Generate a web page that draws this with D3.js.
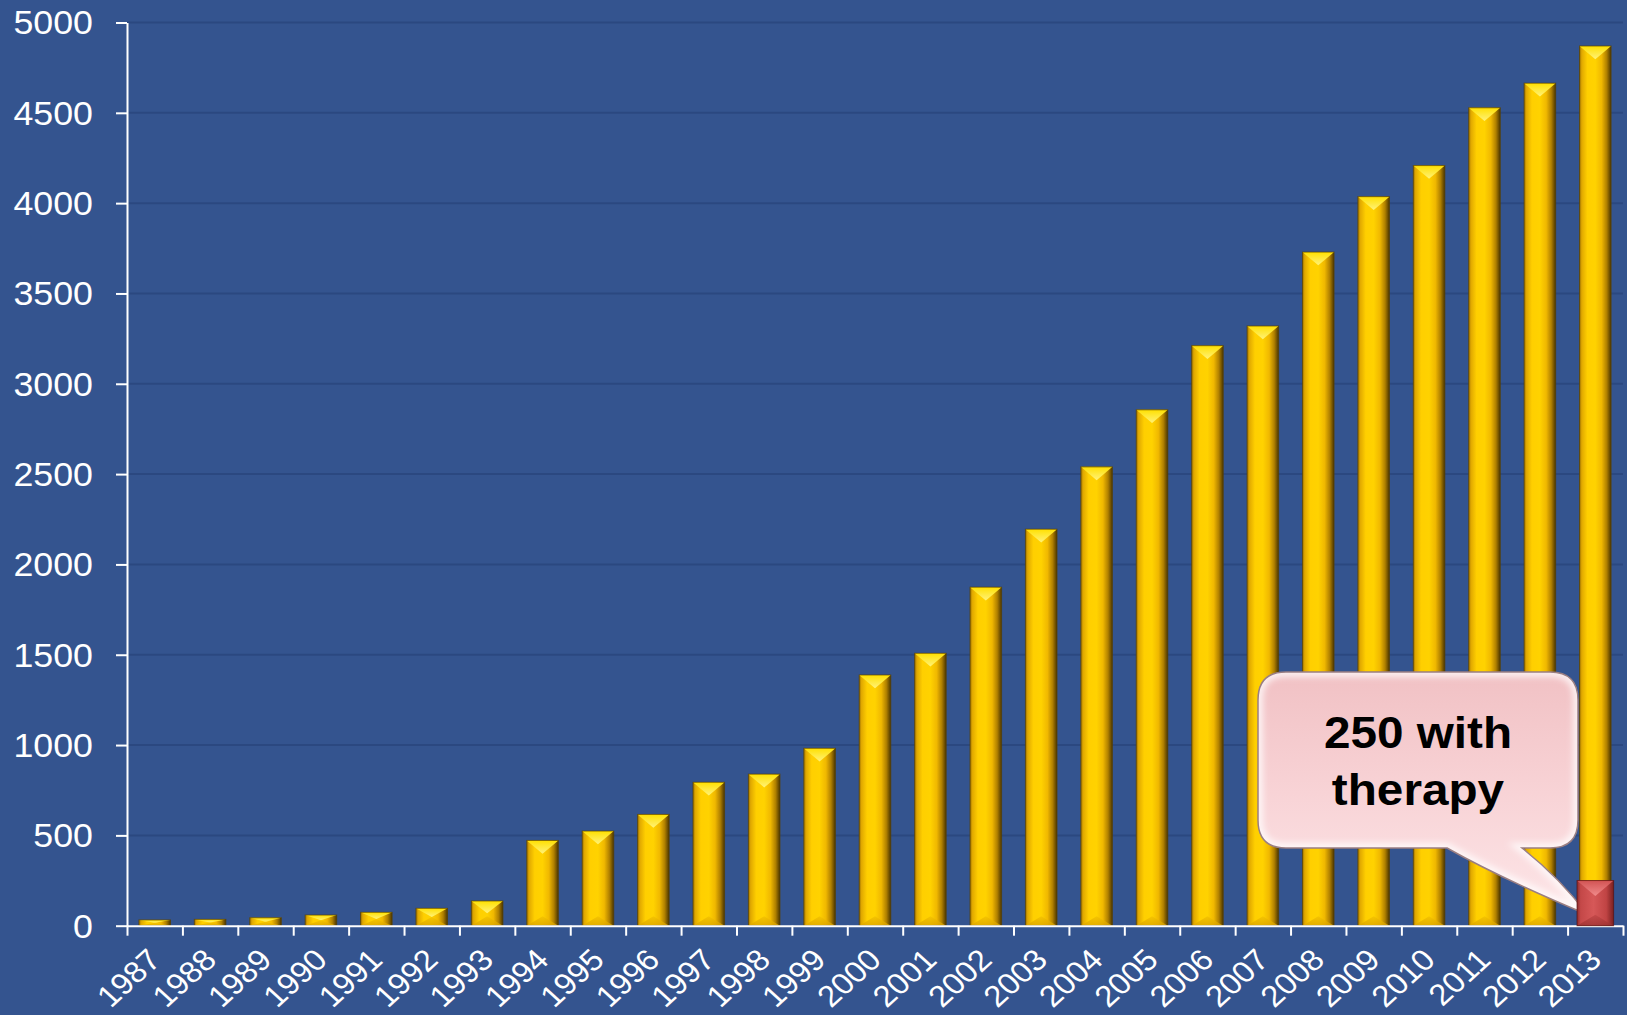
<!DOCTYPE html>
<html>
<head>
<meta charset="utf-8">
<script src="https://cdn.jsdelivr.net/npm/d3@7"></script>
<style>
  html, body { margin: 0; padding: 0; background: #34548f; }
  svg { display: block; }
  text { font-family: "Liberation Sans", Arial, Helvetica, sans-serif; }
</style>
</head>
<body>
<svg id="chart" width="1627" height="1015"></svg>
<script>
// ---- data ----
const years = ['1987','1988','1989','1990','1991','1992','1993','1994','1995','1996','1997','1998','1999',
               '2000','2001','2002','2003','2004','2005','2006','2007','2008','2009','2010','2011','2012','2013'];
const totals = [32, 35, 44, 59, 74, 96, 137, 472, 524, 616, 794, 839, 982,
                1388, 1508, 1874, 2195, 2540, 2856, 3211, 3320, 3729, 4036, 4208, 4528, 4664, 4870];
const therapyYears = ['2013'];
const therapyValues = [250];
const yTicks = [0, 500, 1000, 1500, 2000, 2500, 3000, 3500, 4000, 4500, 5000];
const calloutLines = ['250 with', 'therapy'];

// ---- layout ----
const W = 1627, H = 1015;
const plotLeft = 127, plotRight = 1623, plotTop = 22.5, plotBottom = 925.7;
const SX = 1.1; // horizontal stretch of the original picture

const svg = d3.select('#chart');
const defs = svg.append('defs');

svg.append('rect').attr('width', W).attr('height', H).attr('fill', '#34548f');

const x = d3.scaleBand().domain(years).range([plotLeft, plotRight]).paddingInner(0.43).paddingOuter(0.215);
const y = d3.scaleLinear().domain([0, 5000]).range([plotBottom, plotTop]);

// gradients
function hGrad(id, stops) {
  const g = defs.append('linearGradient').attr('id', id).attr('x1', '0%').attr('x2', '100%').attr('y1', '0%').attr('y2', '0%');
  stops.forEach(s => g.append('stop').attr('offset', s[0]).attr('stop-color', s[1]));
}
function vGrad(id, stops) {
  const g = defs.append('linearGradient').attr('id', id).attr('x1', '0%').attr('x2', '0%').attr('y1', '0%').attr('y2', '100%');
  stops.forEach(s => g.append('stop').attr('offset', s[0]).attr('stop-color', s[1]));
}
hGrad('gold', [[0, '#9a7000'], [0.07, '#e0a800'], [0.25, '#ffcf00'], [0.5, '#ffd200'], [0.7, '#f0b800'], [0.86, '#b08000'], [1, '#4a3500']]);
vGrad('goldTop', [[0, '#ffe000'], [1, '#fff27a']]);
vGrad('goldBot', [[0, '#f2c000'], [1, '#d9a200']]);
hGrad('red', [[0, '#8e2c2c'], [0.1, '#c44848'], [0.45, '#d65858'], [0.8, '#c04444'], [1, '#7a2020']]);
vGrad('redTop', [[0, '#d25454'], [1, '#f08a8a']]);
vGrad('redBot', [[0, '#c04646'], [1, '#9a3030']]);
vGrad('callFill', [[0, '#f1c1c4'], [0.5, '#f8d3d6'], [1, '#fde6e8']]);
const blur = defs.append('filter').attr('id', 'blur').attr('x', '-5%').attr('y', '-5%').attr('width', '110%').attr('height', '110%');
blur.append('feGaussianBlur').attr('stdDeviation', 3);

// gridlines
svg.append('g').selectAll('line').data(yTicks.filter(d => d > 0)).join('line')
  .attr('x1', plotLeft).attr('x2', plotRight).attr('y1', d => y(d)).attr('y2', d => y(d))
  .attr('stroke', '#2b4880').attr('stroke-width', 2);

// bevelled bar drawing
function drawBars(g, cats, vals, opt) {
  const items = cats.map((c, i) => ({ c, v: vals[i] }));
  const bars = g.selectAll('g.bar').data(items).join('g').attr('class', 'bar');
  bars.each(function (d) {
    const gg = d3.select(this);
    const x0 = x(d.c) + x.bandwidth() / 2 - opt.w / 2, x1 = x0 + opt.w;
    const y0 = y(d.v), y1 = y(0);
    const h = y1 - y0;
    const bt = Math.min(opt.w * 0.42, h / 2);
    const bb = Math.min(opt.w * 0.3, h / 2);
    const xc = (x0 + x1) / 2;
    gg.append('rect').attr('x', x0).attr('y', y0).attr('width', opt.w).attr('height', h)
      .attr('fill', `url(#${opt.body})`);
    gg.append('path').attr('d', `M${x0},${y0}L${x1},${y0}L${xc},${y0 + bt}Z`).attr('fill', `url(#${opt.top})`);
    gg.append('path').attr('d', `M${x0},${y1}L${x1},${y1}L${xc},${y1 - bb}Z`).attr('fill', `url(#${opt.bot})`).attr('opacity', 0.75);
    gg.append('rect').attr('x', x0).attr('y', y0).attr('width', opt.w).attr('height', h)
      .attr('fill', 'none').attr('stroke', opt.edge).attr('stroke-width', 1).attr('stroke-opacity', 0.7);
  });
}
drawBars(svg.append('g'), years, totals, { w: x.bandwidth(), body: 'gold', top: 'goldTop', bot: 'goldBot', edge: '#5a4200' });

// Y axis
const yAxis = svg.append('g').attr('transform', `translate(${plotLeft},0)`)
  .call(d3.axisLeft(y).tickValues(yTicks).tickFormat(d3.format('d')).tickSize(11).tickSizeOuter(0));
yAxis.select('.domain').attr('stroke', '#ffffff').attr('stroke-width', 2);
yAxis.selectAll('.tick line').attr('stroke', '#ffffff').attr('stroke-width', 2);
yAxis.selectAll('.tick text')
  .attr('x', 0).attr('dy', '0.35em')
  .attr('transform', `translate(-34,0) scale(${SX},1)`)
  .attr('text-anchor', 'end')
  .attr('fill', '#ffffff').attr('font-size', 32.5)
  .attr('font-family', '"Liberation Sans", Arial, sans-serif');

// X axis (ticks at category boundaries)
const xIdx = d3.scaleLinear().domain([0, years.length]).range([plotLeft, plotRight]);
const xAxis = svg.append('g').attr('transform', `translate(0,${plotBottom})`)
  .call(d3.axisBottom(xIdx).tickValues(d3.range(years.length + 1)).tickFormat('').tickSize(10).tickSizeOuter(0));
xAxis.select('.domain').attr('stroke', '#ffffff').attr('stroke-width', 2);
xAxis.selectAll('.tick line').attr('stroke', '#ffffff').attr('stroke-width', 2);

svg.append('g').selectAll('text').data(years).join('text')
  .attr('transform', d => `translate(${x(d) + x.bandwidth() / 2 + 8},${plotBottom + 36}) scale(${SX},1) rotate(-45)`)
  .attr('text-anchor', 'end')
  .attr('fill', '#ffffff').attr('font-size', 30)
  .text(d => d);

// callout (drawn before the red bar so the tail tip sits under it)
const tipX = x('2013') + x.bandwidth() / 2 - 8, tipY = y(therapyValues[0]) + 34;
const bx0 = 1258, bx1 = 1578, by0 = 672, by1 = 848, r = 28;
const tailA = 1447, tailB = 1522;
const cp = d3.path();
cp.moveTo(bx0 + r, by0);
cp.lineTo(bx1 - r, by0);
cp.quadraticCurveTo(bx1, by0, bx1, by0 + r);
cp.lineTo(bx1, by1 - r);
cp.quadraticCurveTo(bx1, by1, bx1 - r, by1);
cp.lineTo(tailB, by1);
cp.quadraticCurveTo(1560, by1 + 30, tipX, tipY);
cp.quadraticCurveTo(1500, by1 + 30, tailA, by1);
cp.lineTo(bx0 + r, by1);
cp.quadraticCurveTo(bx0, by1, bx0, by1 - r);
cp.lineTo(bx0, by0 + r);
cp.quadraticCurveTo(bx0, by0, bx0 + r, by0);
cp.closePath();
const calloutD = cp.toString();
defs.append('clipPath').attr('id', 'callClip').append('path').attr('d', calloutD);
const cg = svg.append('g');
cg.append('path').attr('d', calloutD).attr('fill', 'url(#callFill)');
cg.append('path').attr('d', calloutD).attr('fill', 'none').attr('stroke', '#ffffff').attr('stroke-width', 10)
  .attr('stroke-opacity', 0.75).attr('filter', 'url(#blur)').attr('clip-path', 'url(#callClip)');
cg.append('path').attr('d', calloutD).attr('fill', 'none').attr('stroke', '#9a7e82').attr('stroke-width', 1.5);
cg.selectAll('text').data(calloutLines).join('text')
  .attr('transform', (d, i) => `translate(1418,${748 + i * 57}) scale(1.06,1)`)
  .attr('text-anchor', 'middle').attr('font-weight', 'bold').attr('font-size', 45).attr('fill', '#000000')
  .text(d => d);

// red therapy bar
drawBars(svg.append('g'), therapyYears, therapyValues, { w: x.bandwidth() + 5, body: 'red', top: 'redTop', bot: 'redBot', edge: '#5a1010' });
</script>
</body>
</html>
